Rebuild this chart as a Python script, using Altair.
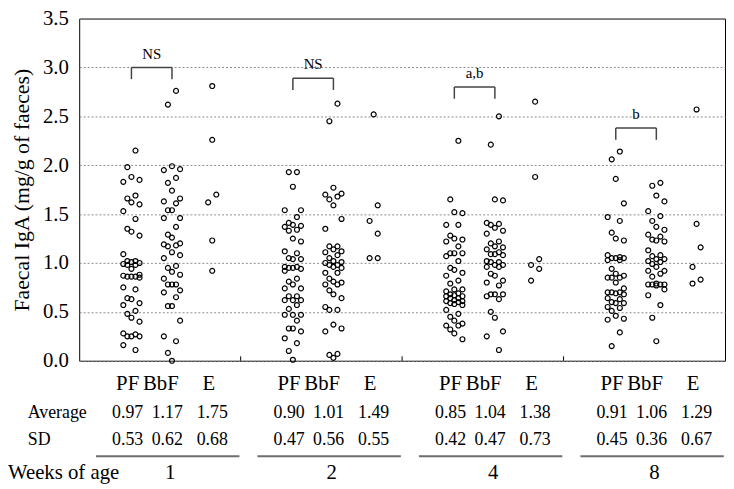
import altair as alt
import pandas as pd

# ---------------- data ----------------
weeks = ["1", "2", "4", "8"]
groups = ["PF", "BbF", "E"]

pf_w1 = [2.15, 1.98, 1.88, 1.85, 1.83, 1.69, 1.66, 1.62, 1.60, 1.53, 1.45, 1.35, 1.32, 1.28, 1.09,
         1.02, 1.02, 1.01, 1.00, 0.99, 0.98, 0.98, 0.94, 0.88, 0.87, 0.86, 0.86, 0.86, 0.85, 0.75,
         0.73, 0.64, 0.63, 0.59, 0.57, 0.51, 0.48, 0.44, 0.40, 0.28, 0.27, 0.25, 0.25, 0.25, 0.16, 0.11]
bbf_w1 = [2.76, 2.62, 1.99, 1.96, 1.95, 1.87, 1.82, 1.74, 1.66, 1.63, 1.61, 1.54, 1.54, 1.46, 1.46,
          1.37, 1.29, 1.26, 1.20, 1.19, 1.18, 1.17, 1.11, 1.08, 1.05, 0.97, 0.95, 0.91, 0.88, 0.84,
          0.78, 0.78, 0.78, 0.72, 0.70, 0.65, 0.56, 0.56, 0.41, 0.25, 0.20, 0.08, 0.00]
e_w1 = [2.81, 2.26, 1.70, 1.62, 1.23, 0.92]

pf_w2 = [1.93, 1.93, 1.78, 1.54, 1.54, 1.47, 1.41, 1.39, 1.38, 1.37, 1.34, 1.33, 1.25, 1.22, 1.12,
         1.10, 1.05, 1.04, 1.04, 0.96, 0.96, 0.95, 0.95, 0.94, 0.92, 0.84, 0.81, 0.78, 0.74, 0.74,
         0.66, 0.66, 0.62, 0.62, 0.62, 0.57, 0.53, 0.47, 0.47, 0.47, 0.41, 0.33, 0.33, 0.30, 0.23,
         0.18, 0.10, 0.01]
bbf_w2 = [2.63, 2.45, 1.77, 1.71, 1.70, 1.68, 1.65, 1.59, 1.45, 1.35, 1.17, 1.17, 1.14, 1.12, 1.11,
          1.08, 1.05, 1.02, 1.01, 1.00, 0.98, 0.98, 0.96, 0.95, 0.90, 0.90, 0.84, 0.81, 0.80, 0.78,
          0.78, 0.72, 0.68, 0.64, 0.55, 0.52, 0.52, 0.37, 0.33, 0.30, 0.07, 0.06, 0.03]
e_w2 = [2.52, 1.59, 1.43, 1.30, 1.05, 1.05]

pf_w4 = [2.25, 1.65, 1.52, 1.51, 1.39, 1.39, 1.28, 1.25, 1.24, 1.22, 1.17, 1.10, 1.10, 1.10, 1.07,
         1.02, 0.95, 0.93, 0.90, 0.87, 0.82, 0.79, 0.73, 0.73, 0.71, 0.69, 0.68, 0.67, 0.66, 0.66,
         0.64, 0.64, 0.62, 0.61, 0.61, 0.60, 0.59, 0.58, 0.57, 0.52, 0.48, 0.45, 0.41, 0.38, 0.36,
         0.36, 0.32, 0.28, 0.22]
bbf_w4 = [2.50, 2.21, 1.65, 1.64, 1.41, 1.40, 1.39, 1.36, 1.33, 1.30, 1.22, 1.20, 1.17, 1.16, 1.14,
          1.11, 1.09, 1.09, 1.08, 1.02, 1.01, 1.01, 0.98, 0.98, 0.96, 0.96, 0.89, 0.87, 0.82, 0.80,
          0.77, 0.68, 0.68, 0.68, 0.66, 0.63, 0.50, 0.44, 0.30, 0.25, 0.11]
e_w4 = [2.65, 1.88, 1.04, 0.98, 0.94, 0.82]

pf_w8 = [2.14, 2.06, 1.86, 1.61, 1.47, 1.43, 1.31, 1.25, 1.23, 1.08, 1.06, 1.05, 1.05, 1.05, 1.03,
         1.03, 0.94, 0.89, 0.87, 0.85, 0.85, 0.85, 0.80, 0.74, 0.70, 0.70, 0.70, 0.69, 0.68, 0.64,
         0.63, 0.60, 0.59, 0.59, 0.55, 0.54, 0.51, 0.46, 0.43, 0.42, 0.29, 0.15]
bbf_w8 = [1.82, 1.79, 1.69, 1.63, 1.53, 1.48, 1.43, 1.37, 1.34, 1.29, 1.27, 1.24, 1.23, 1.22, 1.13,
          1.08, 1.07, 1.04, 1.04, 1.02, 1.01, 0.99, 0.96, 0.92, 0.92, 0.89, 0.86, 0.79, 0.78, 0.78,
          0.78, 0.78, 0.77, 0.73, 0.67, 0.57, 0.44, 0.20]
e_w8 = [2.57, 1.40, 1.16, 0.96, 0.83, 0.79]

average = [["0.97", "1.17", "1.75"], ["0.90", "1.01", "1.49"],
           ["0.85", "1.04", "1.38"], ["0.91", "1.06", "1.29"]]
sd = [["0.53", "0.62", "0.68"], ["0.47", "0.56", "0.55"],
      ["0.42", "0.47", "0.73"], ["0.45", "0.36", "0.67"]]

sig_labels = ["NS", "NS", "a,b", "b"]
bracket_top = [3.00, 2.89, 2.80, 2.38]

y_title = "Faecal IgA (mg/g of faeces)"

# ---------------- layout (pixels) ----------------
TOP = 8
W, H = 653, 354 - TOP
GPX = W / 4.0                      # width of one week block
DOT_OFF = [52.8, 93.8, 134.5]      # column centres inside a block
LAB_OFF = [49.0, 82.5, 131.0]      # group label centres
VAL_OFF = [49.0, 89.0, 134.5]      # average / sd centres
WEEK_OFF = 92.0
LINE_OFF = (17.0, 162.0)
COL_STEP = 4.1
FONT = "'Liberation Serif', 'Times New Roman', Times, serif"

def bx(w, px):
    return w + px / GPX

series = {
    (0, 0): pf_w1, (0, 1): bbf_w1, (0, 2): e_w1,
    (1, 0): pf_w2, (1, 1): bbf_w2, (1, 2): e_w2,
    (2, 0): pf_w4, (2, 1): bbf_w4, (2, 2): e_w4,
    (3, 0): pf_w8, (3, 1): bbf_w8, (3, 2): e_w8,
}

rows = []
cycle = [1, -1, 0, 2, -2]
for (w, g), vals in series.items():
    vs = sorted(vals, reverse=True)
    if g < 2:
        cols = [cycle[i % 5] for i in range(len(vs))]
    else:
        cols = []
        k = 0
        for i, v in enumerate(vs):
            near = False
            if i > 0 and vs[i - 1] - v <= 0.2:
                near = True
            if i < len(vs) - 1 and v - vs[i + 1] <= 0.2:
                near = True
            if near:
                cols.append(1 if k % 2 == 0 else -1)
                k += 1
            else:
                cols.append(0)
    for v, c in zip(vs, cols):
        rows.append({"week": weeks[w], "group": groups[g], "value": v,
                     "x": bx(w, DOT_OFF[g] + c * COL_STEP)})
dots = pd.DataFrame(rows)

xs = alt.Scale(domain=[0, 4], nice=False, zero=False)
ys = alt.Scale(domain=[0, 3.5], nice=False, zero=False)

base_y_axis = alt.Axis(
    values=[0, 0.5, 1, 1.5, 2, 2.5, 3, 3.5], format=".1f",
    grid=True, gridDash=[2, 2], gridColor="#8a8a8a", gridWidth=1,
    ticks=False, domain=False,
    labelFont=FONT, labelFontSize=21, labelColor="black", labelPadding=11,
    title=y_title, titleFont=FONT, titleFontSize=22, titleFontWeight="normal",
    titleColor="black", titlePadding=9,
)

points = alt.Chart(dots).mark_point(
    shape="circle", filled=False, color="black", strokeWidth=1.2, size=25, opacity=1
).encode(
    x=alt.X("x:Q", scale=xs, axis=None),
    y=alt.Y("value:Q", scale=ys, axis=base_y_axis),
)

# divider ticks on the bottom axis
div_df = pd.DataFrame({"x": [1, 2, 3], "y0": [0, 0, 0], "y1": [0.045] * 3})
dividers = alt.Chart(div_df).mark_rule(color="black", strokeWidth=1).encode(
    x=alt.X("x:Q", scale=xs), y=alt.Y("y0:Q", scale=ys), y2="y1:Q")

# significance brackets
br_rows, leg_rows, sig_rows = [], [], []
for w in range(4):
    x1, x2 = bx(w, DOT_OFF[0]), bx(w, DOT_OFF[1])
    t = bracket_top[w]
    br_rows.append({"x1": x1, "x2": x2, "y": t})
    leg_rows.append({"x": x1, "y1": t, "y2": t - 0.12})
    leg_rows.append({"x": x2, "y1": t, "y2": t - 0.12})
    sig_rows.append({"x": (x1 + x2) / 2, "y": t + 0.14, "t": sig_labels[w]})
br = alt.Chart(pd.DataFrame(br_rows)).mark_rule(color="#444444", strokeWidth=1.5).encode(
    x=alt.X("x1:Q", scale=xs), x2="x2:Q", y=alt.Y("y:Q", scale=ys))
legs = alt.Chart(pd.DataFrame(leg_rows)).mark_rule(color="#444444", strokeWidth=1.5).encode(
    x=alt.X("x:Q", scale=xs), y=alt.Y("y1:Q", scale=ys), y2="y2:Q")
sig = alt.Chart(pd.DataFrame(sig_rows)).mark_text(
    font=FONT, fontSize=15, color="black", baseline="middle", align="center").encode(
    x=alt.X("x:Q", scale=xs), y=alt.Y("y:Q", scale=ys), text="t:N")

# table below the plot (pixel rows relative to the plot top)
R_LAB, R_AVG, R_SD, R_LINE, R_WK = 391.5 - 8 - TOP, 420 - 8 - TOP, 447.5 - 8 - TOP, 458.5 - 8 - TOP, 481.5 - 8 - TOP
lab_rows, avg_rows, sd_rows, wk_rows, line_rows = [], [], [], [], []
for w in range(4):
    for g in range(3):
        lab_rows.append({"x": bx(w, LAB_OFF[g]), "t": groups[g]})
        avg_rows.append({"x": bx(w, VAL_OFF[g]), "t": average[w][g]})
        sd_rows.append({"x": bx(w, VAL_OFF[g]), "t": sd[w][g]})
    wk_rows.append({"x": bx(w, WEEK_OFF), "t": weeks[w]})
    line_rows.append({"x1": bx(w, LINE_OFF[0]), "x2": bx(w, LINE_OFF[1])})

def text_layer(rows_, ypix, size):
    return alt.Chart(pd.DataFrame(rows_)).mark_text(
        font=FONT, fontSize=size, color="black", baseline="alphabetic", align="center"
    ).encode(x=alt.X("x:Q", scale=xs), y=alt.value(ypix), text="t:N")

lab_layer = text_layer(lab_rows, R_LAB, 21)
avg_layer = text_layer(avg_rows, R_AVG, 18)
sd_layer = text_layer(sd_rows, R_SD, 18)
wk_layer = text_layer(wk_rows, R_WK, 21)

lines = alt.Chart(pd.DataFrame(line_rows)).mark_rule(color="#6e6e6e", strokeWidth=2).encode(
    x=alt.X("x1:Q", scale=xs), x2="x2:Q", y=alt.value(R_LINE))

head_df = pd.DataFrame({"t": ["Average", "SD", "Weeks of age"],
                        "px": [-52, -52, -72], "py": [R_AVG, R_SD, R_WK],
                        "fs": [18, 18, 21]})
heads = alt.Chart(head_df).mark_text(
    font=FONT, color="black", baseline="alphabetic", align="left"
).encode(
    x=alt.X("px:Q", scale=None), y=alt.Y("py:Q", scale=None), text="t:N",
    size=alt.Size("fs:Q", scale=None, legend=None),
)

chart = alt.layer(
    points, dividers, br, legs, sig, lab_layer, avg_layer, sd_layer, wk_layer, lines, heads
).properties(
    width=W, height=H,
    autosize=alt.AutoSizeParams(type="none"),
    padding={"left": 72, "top": TOP, "right": 1, "bottom": 128},
    background="white",
).configure_view(stroke="black", strokeWidth=1)

chart.save("out.html", embed_options={"renderer": "svg", "actions": False})
